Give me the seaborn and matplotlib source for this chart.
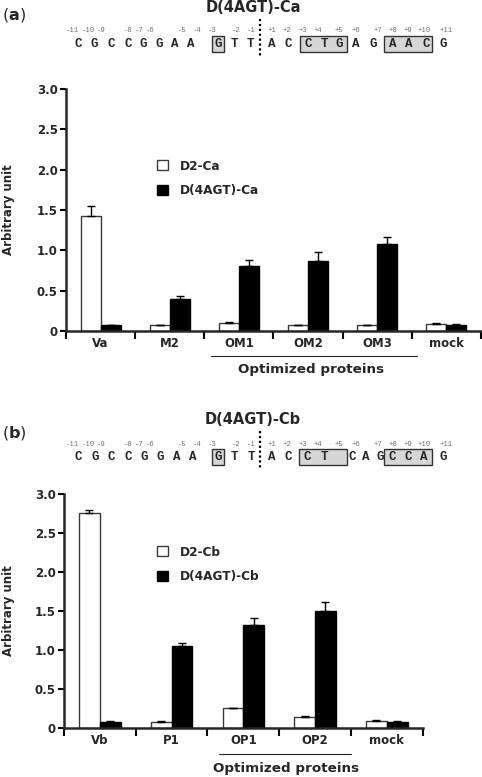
import matplotlib
matplotlib.use("Agg")
import numpy as np
import pandas as pd
import seaborn as sns
import matplotlib.pyplot as plt
from matplotlib.patches import Patch, Rectangle
from matplotlib.lines import Line2D
import matplotlib.transforms as mtrans

# ---------------- data ----------------
series_a = ["D2-Ca", "D(4AGT)-Ca"]
cats_a = ["Va", "M2", "OM1", "OM2", "OM3", "mock"]
d2_a = [1.43, 0.08, 0.10, 0.08, 0.08, 0.09]
d2_a_err = [0.12, 0.0, 0.012, 0.0, 0.0, 0.008]
d4_a = [0.08, 0.40, 0.80, 0.87, 1.08, 0.08]
d4_a_err = [0.0, 0.035, 0.08, 0.11, 0.09, 0.008]

series_b = ["D2-Cb", "D(4AGT)-Cb"]
cats_b = ["Vb", "P1", "OP1", "OP2", "mock"]
d2_b = [2.75, 0.08, 0.255, 0.145, 0.09]
d2_b_err = [0.04, 0.008, 0.01, 0.01, 0.01]
d4_b = [0.08, 1.05, 1.32, 1.50, 0.08]
d4_b_err = [0.01, 0.04, 0.09, 0.11, 0.008]

yticks = [0, 0.5, 1.0, 1.5, 2.0, 2.5, 3.0]
ytick_labels = ["0", "0.5", "1.0", "1.5", "2.0", "2.5", "3.0"]

seq_a = "CGCCGGAAGTTACCTGAGAACG"
seq_b = "CGCCGGAAGTTACCTCAGCCAG"
pos_labels = ["-11", "-10", "-9", "-8", "-7", "-6", "-5", "-4", "-3", "-2", "-1",
              "+1", "+2", "+3", "+4", "+5", "+6", "+7", "+8", "+9", "+10", "+11"]
title_a = "D(4AGT)-Ca"
title_b = "D(4AGT)-Cb"
group_label = "Optimized proteins"
ylabel = "Arbitrary unit"

# ---------------- style ----------------
sns.set_style("ticks")
plt.rcParams["font.family"] = ["DejaVu Sans"]
plt.rcParams["font.weight"] = "bold"
plt.rcParams["mathtext.fontset"] = "custom"
plt.rcParams["mathtext.rm"] = "DejaVu Sans"
plt.rcParams["mathtext.bf"] = "DejaVu Sans:bold"

W, H = 482, 777
fig = plt.figure(figsize=(W / 100, H / 100), dpi=100)


def fx(x):
    return x / W


def fy(y):
    return 1 - y / H


def panel(ax, cats, d2, d2e, d4, d4e, series, line_span, text_x, line_y, text_y, leg_xy):
    df = pd.DataFrame({
        "cat": cats * 2,
        "val": list(d2) + list(d4),
        "series": [series[0]] * len(cats) + [series[1]] * len(cats),
    })
    sns.barplot(data=df, x="cat", y="val", hue="series", order=cats, hue_order=series,
                palette=["white", "black"], width=0.58, errorbar=None, legend=False,
                linewidth=1.0, edgecolor="black", ax=ax)
    for bar in ax.containers[0]:
        bar.set_edgecolor("#3a3a3a")
    for cont, errs in zip(ax.containers, [d2e, d4e]):
        xs = [b.get_x() + b.get_width() / 2 for b in cont]
        ys = [b.get_height() for b in cont]
        ax.errorbar(xs, ys, yerr=[np.zeros(len(errs)), errs], fmt="none",
                    ecolor="black", elinewidth=1.0, capsize=3.2, capthick=1.0, zorder=1)
    n = len(cats)
    ax.set_xlim(-0.5, n - 0.5)
    ax.set_ylim(0, 3.0)
    ax.set_yticks(yticks)
    ax.set_yticklabels(ytick_labels)
    ax.set_xticks(range(n))
    ax.set_xticklabels(cats)
    ax.set_xticks(np.arange(-0.5, n, 1.0), minor=True)
    ax.tick_params(axis="x", which="major", length=0, pad=4, labelsize=8.5)
    ax.tick_params(axis="x", which="minor", length=6, width=1.5, direction="out", color="black")
    ax.tick_params(axis="y", length=4, width=1.5, direction="out", pad=2, labelsize=8.5, color="black")
    for lab in ax.get_xticklabels() + ax.get_yticklabels():
        lab.set_fontweight("bold")
    ax.set_xlabel("")
    ax.set_ylabel("")
    sns.despine(ax=ax)
    ax.spines["left"].set_linewidth(1.8)
    ax.spines["bottom"].set_linewidth(1.8)
    ax.set_facecolor("none")
    tr = mtrans.blended_transform_factory(ax.transData, ax.transAxes)
    ax.add_line(Line2D(line_span, [line_y, line_y], transform=tr, color="#222222",
                       lw=0.8, clip_on=False))
    ax.text(text_x, text_y, group_label, transform=tr, ha="center", va="center",
            fontsize=9.7, fontweight="bold", clip_on=False)
    handles = [Patch(facecolor="white", edgecolor="#3a3a3a", linewidth=1.0),
               Patch(facecolor="black", edgecolor="black", linewidth=1.0)]
    ax.legend(handles, series, loc="upper left", bbox_to_anchor=(fx(leg_xy[0]), fy(leg_xy[1])),
              bbox_transform=fig.transFigure, frameon=False, borderpad=0, borderaxespad=0,
              handlelength=0.9, handleheight=0.9, handletextpad=1.0, labelspacing=0.95,
              prop={"size": 8.7, "weight": "bold"})


def sequence_block(seq, letter_x, boxes, y_title, y_nums, y_letters, dot_y, title, tag, tag_y):
    fig.text(fx(253), fy(y_title), title, ha="center", va="center", fontsize=10.5,
             fontweight="bold")
    fig.text(fx(2), fy(tag_y), r"($\mathbf{" + tag + r"}$)", ha="left", va="center",
             fontsize=11.5, fontweight="normal")
    for (x0, x1) in boxes:
        fig.add_artist(Rectangle((fx(x0), fy(y_letters + 8)), (x1 - x0) / W, 16 / H,
                                 transform=fig.transFigure, facecolor="#d6d6d6",
                                 edgecolor="#333333", linewidth=1.0))
    for ch, x in zip(seq, letter_x):
        fig.text(fx(x), fy(y_letters), ch, ha="center", va="center", fontsize=9,
                 fontweight="bold", family="Liberation Mono")
    for lab, x in zip(pos_labels, num_x):
        fig.text(fx(x), fy(y_nums), lab, ha="center", va="center", fontsize=5.2,
                 fontweight="normal", family="Liberation Mono", color="#707070")
    fig.add_artist(Line2D([fx(260), fx(260)], [fy(dot_y[0]), fy(dot_y[1])],
                          transform=fig.transFigure, color="black", lw=1.6,
                          linestyle=(0, (1, 1.2))))


num_x = [72.5, 88.5, 101.5, 128, 139, 150.5, 182, 197.5, 212.5, 236, 251,
         272, 287, 303, 318, 339, 356, 378, 393, 408, 424, 446]
letters_a_x = [78, 94, 111, 128, 143, 159, 175, 191, 218, 234, 250,
               272, 288, 308, 324, 339, 356, 373, 393, 409, 426, 443]
letters_b_x = [78, 95, 111, 128, 144, 160, 177, 193, 218, 234, 251,
               272, 288, 307, 324, 352, 366, 380, 392, 408, 424, 443]

sequence_block(seq_a, letters_a_x, [(211.7, 224), (300, 346.7), (384.3, 431.7)],
               8, 31, 44, (19, 56), title_a, "a", 15)
sequence_block(seq_b, letters_b_x, [(211.7, 224), (299.3, 347), (384.3, 431.7)],
               420, 444, 457, (431, 469), title_b, "b", 433)

axA = fig.add_axes([fx(66), fy(331), (481 - 66) / W, (331 - 89) / H])
panel(axA, cats_a, d2_a, d2_a_err, d4_a, d4_a_err, series_a,
      (1.59, 4.57), 3.05, -0.103, -0.161, (157, 159.5))

axB = fig.add_axes([fx(64), fy(728.3), (422.7 - 64) / W, (728.3 - 493.7) / H])
panel(axB, cats_b, d2_b, d2_b_err, d4_b, d4_b_err, series_b,
      (1.66, 3.50), 2.60, -0.111, -0.170, (157, 545.5))

fig.text(fx(9), fy(210), ylabel, rotation=90, ha="center", va="center", fontsize=8.5,
         fontweight="bold")
fig.text(fx(9), fy(611), ylabel, rotation=90, ha="center", va="center", fontsize=8.5,
         fontweight="bold")

fig.savefig("out.png", dpi=100)
